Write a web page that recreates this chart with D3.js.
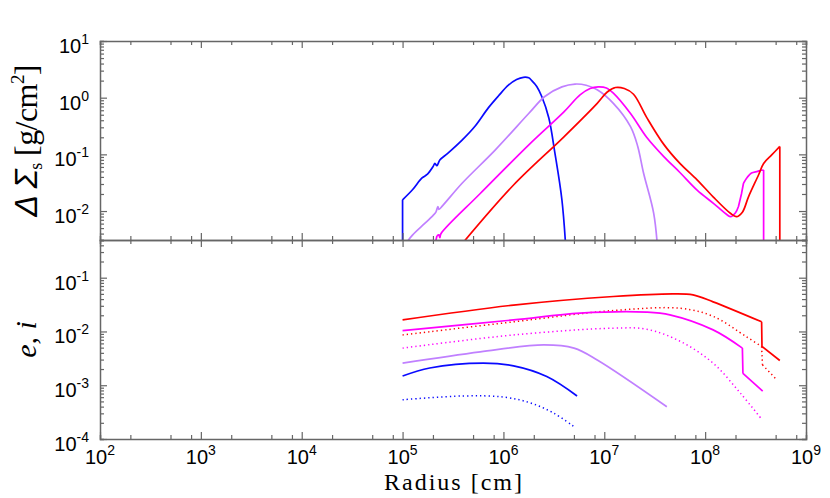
<!DOCTYPE html>
<html>
<head>
<meta charset="utf-8">
<script src="https://cdn.jsdelivr.net/npm/d3@7"></script>
<style>
  html, body { margin: 0; padding: 0; background: #fff; }
  svg { display: block; }
</style>
</head>
<body>
<svg id="chart" width="830" height="498"></svg>
<script>
// ---------------- data (radius in cm) ----------------
const xTickExps = [2, 3, 4, 5, 6, 7, 8, 9];
const topTickExps = [-2, -1, 0, 1];
const bottomTickExps = [-4, -3, -2, -1];

// Top panel: Delta Sigma_s [g/cm^2]
const sigmaBlueR   = [1.0e5, 1.0e5, 1.26e5, 1.55e5, 1.74e5, 1.86e5, 2.0e5, 2.09e5, 2.19e5, 2.34e5, 2.82e5, 3.89e5, 5.25e5, 7.08e5, 8.91e5, 1.12e6, 1.35e6, 1.58e6, 1.78e6, 1.91e6, 2.14e6, 2.40e6, 2.82e6, 3.24e6, 3.80e6, 4.17e6];
const sigmaBlue    = [1.0e-3, 1.58e-2, 2.40e-2, 3.80e-2, 4.37e-2, 5.01e-2, 6.03e-2, 6.92e-2, 6.31e-2, 7.94e-2, 0.105, 0.178, 0.316, 0.661, 1.07, 1.66, 2.09, 2.29, 2.24, 2.00, 1.58, 1.05, 0.437, 0.105, 0.0158, 0.0020];

const sigmaLavR    = [1.05e5, 1.26e5, 1.66e5, 2.0e5, 2.14e5, 2.24e5, 2.29e5, 2.51e5, 3.89e5, 8.32e5, 1.78e6, 2.57e6, 3.80e6, 5.13e6, 6.61e6, 8.51e6, 1.23e7, 1.82e7, 2.14e7, 2.45e7, 3.09e7, 3.39e7];
const sigmaLav     = [2.51e-3, 3.80e-3, 6.03e-3, 8.32e-3, 9.55e-3, 1.20e-2, 1.07e-2, 1.26e-2, 3.09e-2, 0.120, 0.525, 1.05, 1.55, 1.74, 1.66, 1.38, 0.794, 0.309, 0.141, 0.0468, 0.00912, 0.0020];

const sigmaMagR    = [2.09e5, 2.19e5, 2.29e5, 2.34e5, 2.40e5, 5.89e5, 1.86e6, 3.98e6, 5.75e6, 7.24e6, 8.71e6, 1.05e7, 1.23e7, 1.82e7, 2.63e7, 3.89e7, 5.62e7, 8.32e7, 1.20e8, 1.66e8, 1.78e8, 2.00e8, 2.14e8, 2.29e8, 2.40e8, 2.63e8, 2.88e8, 3.31e8, 3.60e8, 3.80e8, 3.80e8];
const sigmaMag     = [2.51e-3, 3.63e-3, 3.80e-3, 3.39e-3, 3.98e-3, 2.04e-2, 0.158, 0.562, 1.12, 1.45, 1.55, 1.48, 1.20, 0.525, 0.200, 0.0912, 0.0479, 0.0234, 0.0138, 0.00851, 0.00794, 0.00933, 0.0120, 0.0200, 0.0309, 0.0398, 0.0468, 0.0501, 0.0525, 0.0530, 0.0020];

const sigmaRedR    = [3.80e5, 1.26e6, 3.98e6, 8.51e6, 1.07e7, 1.29e7, 1.58e7, 1.95e7, 2.63e7, 3.89e7, 5.62e7, 8.32e7, 1.20e8, 1.78e8, 2.04e8, 2.34e8, 2.69e8, 3.39e8, 3.80e8, 4.57e8, 5.50e8, 5.50e8];
const sigmaRed     = [2.51e-3, 2.88e-2, 0.204, 0.794, 1.26, 1.51, 1.45, 1.15, 0.45, 0.150, 0.0692, 0.0355, 0.0178, 0.00912, 0.00794, 0.00955, 0.0178, 0.0437, 0.0692, 0.0977, 0.138, 0.0020];

// Bottom panel: e (solid) and i (dotted)
const eRedR  = [1.0e5, 1.26e6, 1.23e7, 4.90e7, 7.59e7, 1.20e8, 3.63e8, 3.66e8, 5.50e8];
const eRed   = [0.0164, 0.0309, 0.0447, 0.0501, 0.0479, 0.0355, 0.0151, 0.00525, 0.00288];
const iRedR  = [1.0e5, 1.26e6, 1.23e7, 5.75e7, 1.20e8, 2.57e8, 3.63e8, 3.70e8, 5.13e8];
const iRed   = [0.00861, 0.0151, 0.0245, 0.0269, 0.0191, 0.00794, 0.00525, 0.00240, 0.00126];

const eMagR  = [1.0e5, 1.26e6, 5.75e6, 2.63e7, 4.47e7, 1.20e8, 2.34e8, 2.37e8, 3.72e8];
const eMag   = [0.0104, 0.0164, 0.0219, 0.0229, 0.0204, 0.0107, 0.00490, 0.00166, 0.000776];
const iMagR  = [1.0e5, 1.26e6, 1.23e7, 2.63e7, 5.75e7, 1.20e8, 2.24e8, 3.63e8];
const iMag   = [0.00490, 0.00861, 0.0115, 0.0110, 0.00646, 0.00257, 0.000708, 0.000234];

const eLavR  = [1.0e5, 5.89e5, 2.51e6, 5.01e6, 8.51e6, 4.17e7];
const eLav   = [0.00257, 0.00417, 0.00562, 0.00490, 0.00295, 0.000398];

const eBlueR = [1.0e5, 1.86e5, 6.31e5, 1.26e6, 2.69e6, 5.37e6];
const eBlue  = [0.00148, 0.00209, 0.00257, 0.00229, 0.00145, 0.000631];
const iBlueR = [1.0e5, 3.98e5, 1.0e6, 1.86e6, 3.16e6, 5.01e6];
const iBlue  = [0.000537, 0.000631, 0.000603, 0.000468, 0.000302, 0.000170];

const colors = { blue: "#0a0aff", lav: "#c080ff", mag: "#ff00ff", red: "#ff0000" };

// ---------------- layout ----------------
const svg = d3.select("#chart");
const L = 100, R = 806, T1 = 41, B1 = 240, T2 = 240, B2 = 439;
const frameColor = "#666";

const x = d3.scaleLog().domain([1e2, 1e9]).range([L, R]);
const yTop = d3.scaleLog().domain([Math.pow(10, -2.511), 10]).range([B1, T1]);
const yBot = d3.scaleLog().domain([1e-4, Math.pow(10, -0.299)]).range([B2, T2]);

const defs = svg.append("defs");
defs.append("clipPath").attr("id", "clipTop").append("rect")
  .attr("x", L).attr("y", T1).attr("width", R - L).attr("height", B1 - T1);
defs.append("clipPath").attr("id", "clipBot").append("rect")
  .attr("x", L).attr("y", T2).attr("width", R - L).attr("height", B2 - T2);

// Smooth runs (Catmull-Rom) separated by steep jumps drawn as straight segments
function drawLine(g, yScale, rs, vs, color, dotted) {
  const pts = rs.map((r, i) => [x(r), yScale(vs[i])]);
  const runs = [];
  let cur = [pts[0]];
  for (let i = 1; i < pts.length; i++) {
    const dx = Math.abs(pts[i][0] - pts[i - 1][0]);
    const dy = Math.abs(pts[i][1] - pts[i - 1][1]);
    const steep = dx < 4 && dy > 8;
    if (steep) {
      if (cur.length > 1) runs.push({ p: cur, smooth: true });
      runs.push({ p: [pts[i - 1], pts[i]], smooth: false });
      cur = [pts[i]];
    } else {
      cur.push(pts[i]);
    }
  }
  if (cur.length > 1) runs.push({ p: cur, smooth: true });
  let d = "";
  runs.forEach(run => {
    const gen = d3.line().curve(run.smooth ? d3.curveCatmullRom.alpha(0.5) : d3.curveLinear);
    d += gen(run.p);
  });
  g.append("path")
    .attr("d", d)
    .attr("fill", "none")
    .attr("stroke", color)
    .attr("stroke-width", dotted ? 1.5 : 1.7)
    .attr("stroke-dasharray", dotted ? "1.3,3" : null)
    .attr("stroke-linejoin", "round");
}

const gTop = svg.append("g").attr("clip-path", "url(#clipTop)");
drawLine(gTop, yTop, sigmaBlueR, sigmaBlue, colors.blue, false);
drawLine(gTop, yTop, sigmaLavR, sigmaLav, colors.lav, false);
drawLine(gTop, yTop, sigmaMagR, sigmaMag, colors.mag, false);
drawLine(gTop, yTop, sigmaRedR, sigmaRed, colors.red, false);

const gBot = svg.append("g").attr("clip-path", "url(#clipBot)");
drawLine(gBot, yBot, iRedR, iRed, colors.red, true);
drawLine(gBot, yBot, iMagR, iMag, colors.mag, true);
drawLine(gBot, yBot, iBlueR, iBlue, colors.blue, true);
drawLine(gBot, yBot, eRedR, eRed, colors.red, false);
drawLine(gBot, yBot, eMagR, eMag, colors.mag, false);
drawLine(gBot, yBot, eLavR, eLav, colors.lav, false);
drawLine(gBot, yBot, eBlueR, eBlue, colors.blue, false);

// ---------------- axes ----------------
function xTickValues() {
  const v = [];
  for (let e = 2; e <= 9; e++) {
    v.push(Math.pow(10, e));
    if (e < 9) [2, 5, 8].forEach(m => v.push(m * Math.pow(10, e)));
  }
  return v;
}
function yTickValues(scale) {
  const [a, b] = scale.domain();
  const v = [];
  for (let e = Math.floor(Math.log10(a)); e <= Math.ceil(Math.log10(b)); e++) {
    for (let m = 1; m <= 9; m++) {
      const t = m * Math.pow(10, e);
      if (t >= a * 0.9999 && t <= b * 1.0001) v.push(t);
    }
  }
  return v;
}
function isMajor(t) { return Math.abs(Math.log10(t) - Math.round(Math.log10(t))) < 1e-6; }

function axisGroup(axisFn, scale, values, transform) {
  const g = svg.append("g").attr("transform", transform)
    .call(axisFn(scale).tickValues(values).tickFormat("").tickSizeOuter(0).tickSize(4));
  g.select(".domain").attr("stroke", frameColor).attr("stroke-width", 1.5);
  g.selectAll(".tick line").attr("stroke", frameColor).attr("stroke-width", 1.2);
  g.selectAll(".tick").filter(d => isMajor(d)).select("line")
    .each(function() {
      const ln = d3.select(this);
      ["x2", "y2"].forEach(k => {
        const v = +ln.attr(k);
        if (v) ln.attr(k, v > 0 ? 7 : -7);
      });
    });
  return g;
}

const xVals = xTickValues();
axisGroup(d3.axisBottom, x, xVals, `translate(0,${T1})`);
axisGroup(d3.axisTop, x, xVals, `translate(0,${B1})`);
axisGroup(d3.axisRight, yTop, yTickValues(yTop), `translate(${L},0)`);
axisGroup(d3.axisLeft, yTop, yTickValues(yTop), `translate(${R},0)`);
axisGroup(d3.axisBottom, x, xVals, `translate(0,${T2})`);
axisGroup(d3.axisTop, x, xVals, `translate(0,${B2})`);
axisGroup(d3.axisRight, yBot, yTickValues(yBot), `translate(${L},0)`);
axisGroup(d3.axisLeft, yBot, yTickValues(yBot), `translate(${R},0)`);

// ---------------- tick labels ----------------
const labelFont = "'Liberation Sans', Arial, Helvetica, sans-serif";
function powLabel(sel, exp) {
  sel.append("tspan").text("10");
  sel.append("tspan").attr("dy", -9).attr("font-size", 14).text(String(exp));
}
xTickExps.forEach(e => {
  const t = svg.append("text")
    .attr("x", x(Math.pow(10, e))).attr("y", 463.5)
    .attr("text-anchor", "middle")
    .attr("font-family", labelFont).attr("font-size", 20).attr("fill", "#000");
  powLabel(t, e);
});
topTickExps.forEach(e => {
  const t = svg.append("text")
    .attr("x", 89).attr("y", yTop(Math.pow(10, e)) + 12)
    .attr("text-anchor", "end")
    .attr("font-family", labelFont).attr("font-size", 20).attr("fill", "#000");
  powLabel(t, e);
});
bottomTickExps.forEach(e => {
  const t = svg.append("text")
    .attr("x", 89).attr("y", yBot(Math.pow(10, e)) + 12)
    .attr("text-anchor", "end")
    .attr("font-family", labelFont).attr("font-size", 20).attr("fill", "#000");
  powLabel(t, e);
});

// ---------------- axis titles ----------------
const serif = "'Liberation Serif', 'Times New Roman', Times, serif";
svg.append("text")
  .attr("x", 453).attr("y", 489.5)
  .attr("text-anchor", "middle")
  .attr("font-family", serif).attr("font-size", 24)
  .attr("textLength", 138).attr("lengthAdjust", "spacing")
  .text("Radius [cm]");

const yt = svg.append("text")
  .attr("transform", `translate(37,${(T1 + B1) / 2}) rotate(-90)`)
  .attr("text-anchor", "middle")
  .attr("font-family", serif).attr("font-size", 32).attr("fill", "#000")
  .attr("textLength", 152).attr("lengthAdjust", "spacing");
yt.append("tspan").attr("font-family", labelFont).attr("font-style", "italic").text("Δ Σ");
yt.append("tspan").attr("font-size", 18).attr("dy", 5).text("s");
yt.append("tspan").attr("dy", -5).text(" [g/cm");
yt.append("tspan").attr("font-size", 19).attr("dy", -13).text("2");
yt.append("tspan").attr("dy", 13).text("]");

svg.append("text")
  .attr("transform", `translate(36,${(T2 + B2) / 2}) rotate(-90)`)
  .attr("text-anchor", "middle")
  .attr("font-family", serif).attr("font-size", 30).attr("font-style", "italic")
  .attr("fill", "#000")
  .text("e, i");
</script>
</body>
</html>
